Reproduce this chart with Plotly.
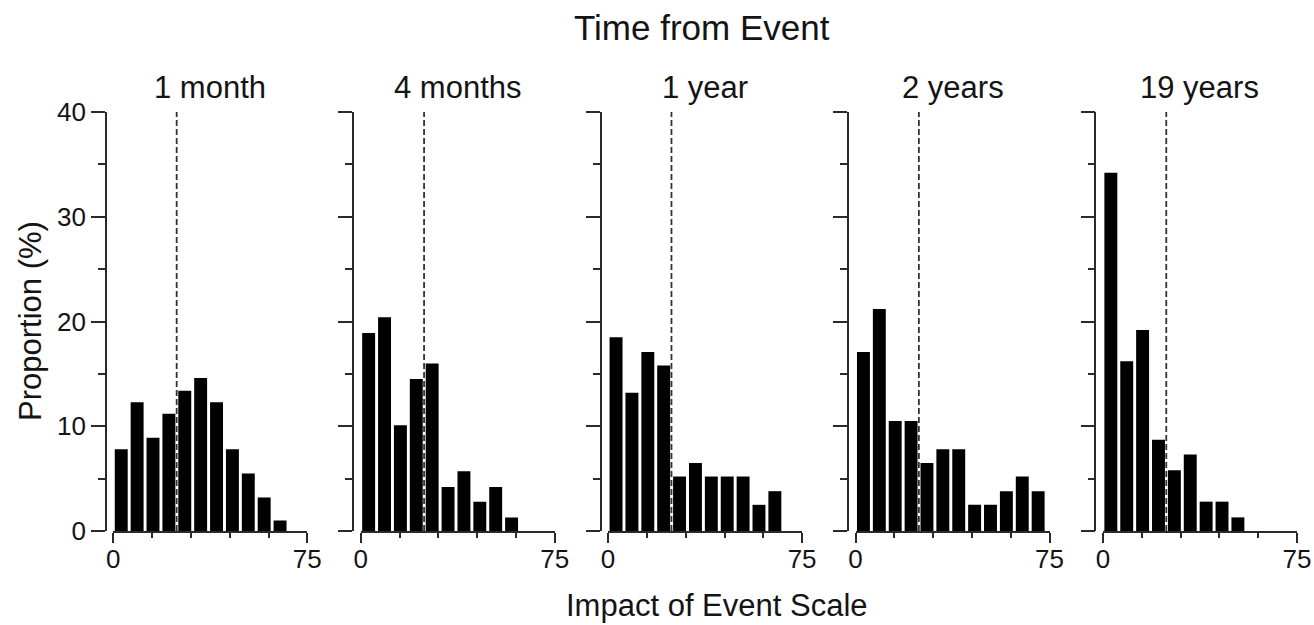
import plotly.graph_objects as go

# ---- data ----
panel_titles = ["1 month", "4 months", "1 year", "2 years", "19 years"]
bin_centers = [3.07, 9.21, 15.35, 21.49, 27.63, 33.77, 39.91, 46.05, 52.19, 58.33, 64.47, 70.61]
prop_1month = [7.8, 12.3, 8.9, 11.2, 13.4, 14.6, 12.3, 7.8, 5.5, 3.2, 1.0]
prop_4months = [18.9, 20.4, 10.1, 14.5, 16.0, 4.2, 5.7, 2.8, 4.2, 1.3]
prop_1year = [18.5, 13.2, 17.1, 15.8, 5.2, 6.5, 5.2, 5.2, 5.2, 2.5, 3.8]
prop_2years = [17.1, 21.2, 10.5, 10.5, 6.5, 7.8, 7.8, 2.5, 2.5, 3.8, 5.2, 3.8]
prop_19years = [34.2, 16.2, 19.2, 8.7, 5.8, 7.3, 2.8, 2.8, 1.3]
cutoff = 24.5
x_ticks = [0, 75]
x_minor = [15, 30, 45, 60]
y_range = [0, 40]

series = [prop_1month, prop_4months, prop_1year, prop_2years, prop_19years]

W, H = 1314, 625
FONT = "Liberation Sans, Arial, sans-serif"
AX = "#2a2a2a"
TXT = "#141414"

fig = go.Figure()
layout = {}
for i, (title, vals) in enumerate(zip(panel_titles, series)):
    n = "" if i == 0 else str(i + 1)
    xa, ya = "x" + n, "y" + n
    fig.add_trace(go.Bar(x=bin_centers[:len(vals)], y=vals, width=5.0,
                         marker=dict(color="black", line=dict(width=0)),
                         xaxis=xa, yaxis=ya, showlegend=False, hoverinfo="x+y"))
    fig.add_trace(go.Scatter(x=[cutoff, cutoff], y=y_range, mode="lines",
                             line=dict(color="#333333", width=1.8, dash="6px,3px"),
                             xaxis=xa, yaxis=ya, showlegend=False, hoverinfo="skip"))
    x0 = 113.3 + 247.4 * i
    x1 = x0 + 194
    layout["xaxis" + n] = dict(
        domain=[x0 / W, x1 / W], range=[0, 75], anchor=ya,
        showline=True, linecolor=AX, linewidth=1.5, mirror=False,
        ticks="outside", tickvals=x_ticks, ticklen=10, tickwidth=1.5, tickcolor=AX,
        ticklabelstandoff=-6,
        minor=dict(tickvals=x_minor, ticks="outside", ticklen=5, tickwidth=1.5, tickcolor=AX),
        showgrid=False, zeroline=False, automargin=False,
        tickfont=dict(family=FONT, size=26, color=TXT),
    )
    layout["yaxis" + n] = dict(
        domain=[(H - 531) / H, (H - 112) / H], range=y_range,
        anchor="free", position=(x0 - 7.5) / W,
        showline=True, linecolor=AX, linewidth=1.5,
        ticks="outside", dtick=10, tick0=0, ticklen=14, tickwidth=1.5, tickcolor=AX,
        minor=dict(dtick=5, tick0=0, ticks="outside", ticklen=7, tickwidth=1.5, tickcolor=AX),
        showticklabels=(i == 0), showgrid=False, zeroline=False, automargin=False,
        tickfont=dict(family=FONT, size=26, color=TXT),
    )
    fig.add_annotation(text=title, x=(x0 + x1) / 2 / W, y=(H - 87) / H,
                       xref="paper", yref="paper", showarrow=False,
                       xanchor="center", yanchor="middle",
                       font=dict(family=FONT, size=31, color=TXT))

fig.add_annotation(text="Time from Event", x=702 / W, y=(H - 27) / H,
                   xref="paper", yref="paper", showarrow=False,
                   xanchor="center", yanchor="middle",
                   font=dict(family=FONT, size=35, color=TXT))
fig.add_annotation(text="Impact of Event Scale", x=717 / W, y=(H - 605) / H,
                   xref="paper", yref="paper", showarrow=False,
                   xanchor="center", yanchor="middle",
                   font=dict(family=FONT, size=31, color=TXT))
fig.add_annotation(text="Proportion (%)", x=30 / W, y=(H - 321) / H,
                   xref="paper", yref="paper", showarrow=False, textangle=-90,
                   xanchor="center", yanchor="middle",
                   font=dict(family=FONT, size=31, color=TXT))

fig.update_layout(width=W, height=H, margin=dict(l=0, r=0, t=0, b=0),
                  paper_bgcolor="white", plot_bgcolor="white",
                  template="none", showlegend=False, **layout)
fig.write_html("out.html", config={"displayModeBar": False},
               post_script="document.body.style.margin='0';document.body.style.overflow='hidden';")
